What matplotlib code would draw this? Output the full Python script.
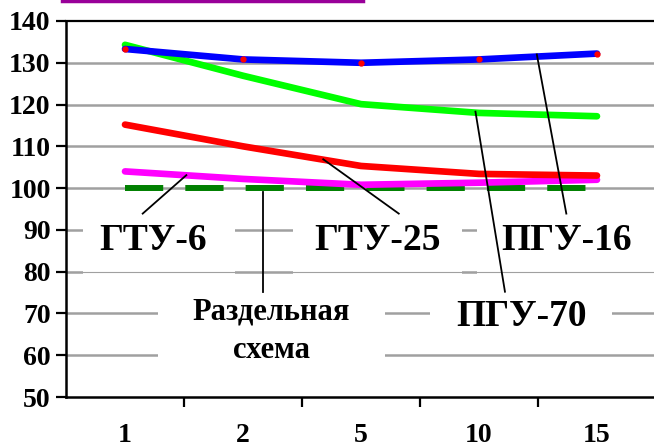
import matplotlib.pyplot as plt
from matplotlib.lines import Line2D
from matplotlib.patches import Rectangle

plt.rcParams['font.family'] = ['Liberation Serif', 'DejaVu Serif']
plt.rcParams['font.weight'] = 'bold'

# мощность установки, МВт
categories = ['1', '2', '5', '10', '15']
pgu16 = [133.3, 130.8, 130.0, 130.8, 132.2]
pgu70 = [134.3, 126.9, 120.1, 118.0, 117.2]
gtu25 = [115.2, 110.0, 105.3, 103.4, 103.0]
gtu6 = [104.0, 102.2, 100.8, 101.3, 102.0]
separate = [100, 100, 100, 100, 100]
yticks = [50, 60, 70, 80, 90, 100, 110, 120, 130, 140]

W, H = 654, 448
fig = plt.figure(figsize=(W / 100, H / 100), dpi=100)
ax = fig.add_axes([66 / W, 1 - 397 / H, (656 - 66) / W, (397 - 21) / H])

x = list(range(len(categories)))

# сетка
for v in yticks[1:-1]:
    ax.axhline(v, color='#a0a0a0', lw=1.8, zorder=1)
ax.axhline(140, color='black', lw=1.6, zorder=1, clip_on=False)

ax.plot(x, separate, color='#008000', lw=4.3, dashes=(6.4, 3.7), zorder=3)
ax.plot(x, gtu6, color='#ff00ff', lw=4.8, solid_capstyle='round', zorder=4)
ax.plot(x, gtu25, color='#ff0000', lw=4.8, solid_capstyle='round', zorder=4)
ax.plot(x, pgu70, color='#00ff00', lw=4.8, solid_capstyle='round', zorder=4)
ax.plot(x, pgu16, color='#0000ff', lw=4.8, solid_capstyle='round', zorder=5)
ax.plot(x, pgu16, ls='none', marker='o', ms=3.5, color='#ff0000', zorder=6)

ax.set_xlim(-0.5, 4.5)
ax.set_ylim(50, 140)
ax.set_yticks(yticks)
ax.set_xticks([i + 0.5 for i in range(4)])
ax.set_xticklabels([])
for i, c in enumerate(categories):
    ax.text(i, 39.3, c, ha='center', va='baseline', fontsize=20, fontweight='bold')
ax.tick_params(axis='y', direction='out', length=7, width=1.6, labelsize=20, pad=4)
ax.tick_params(axis='x', direction='out', length=7, width=1.6)
for lbl in ax.get_yticklabels():
    lbl.set_fontweight('bold')

ax.spines['top'].set_visible(False)
ax.spines['right'].set_visible(False)
ax.spines['left'].set_linewidth(1.8)
ax.spines['bottom'].set_linewidth(1.8)

# белые подложки подписей поверх сетки
for x0, x1, y0, y1 in [(-0.36, 0.93, 79, 97), (1.42, 2.86, 79, 97), (2.98, 4.6, 79, 97),
                       (0.28, 2.2, 55, 78), (2.585, 4.13, 65, 75)]:
    ax.add_patch(Rectangle((x0, y0), x1 - x0, y1 - y0, facecolor='white',
                           edgecolor='none', zorder=2))
ax.axhline(80, color='#a0a0a0', lw=0.8, zorder=2.5)

# подписи с выносками
labels = [
    ('ГТУ-6', 0.24, 87.5, (0.52, 103.1), (0.15, 93.9)),
    ('ГТУ-25', 2.14, 87.5, (1.68, 106.9), (2.32, 93.9)),
    ('ПГУ-16', 3.74, 87.5, (3.49, 132.0), (3.74, 93.9)),
    ('ПГУ-70', 3.36, 69.3, (2.97, 118.3), (3.22, 75.2)),
]
for text, tx, ty, p0, p1 in labels:
    ax.text(tx, ty, text, ha='center', va='center', fontsize=27,
            fontweight='bold', zorder=7)
    ax.add_line(Line2D([p0[0], p1[0]], [p0[1], p1[1]], color='black', lw=1.3, zorder=8))

ax.text(1.24, 65.8, 'Раздельная\nсхема', ha='center', va='center', fontsize=22,
        fontweight='bold', linespacing=1.45, zorder=7)
ax.add_line(Line2D([1.17, 1.17], [99.0, 75.2], color='black', lw=1.3, zorder=8))

fig.add_artist(Line2D([62 / W, 363 / W], [1 - 1.5 / H, 1 - 1.5 / H], color='#990099', lw=2.5))

fig.savefig('out.png', dpi=100)
